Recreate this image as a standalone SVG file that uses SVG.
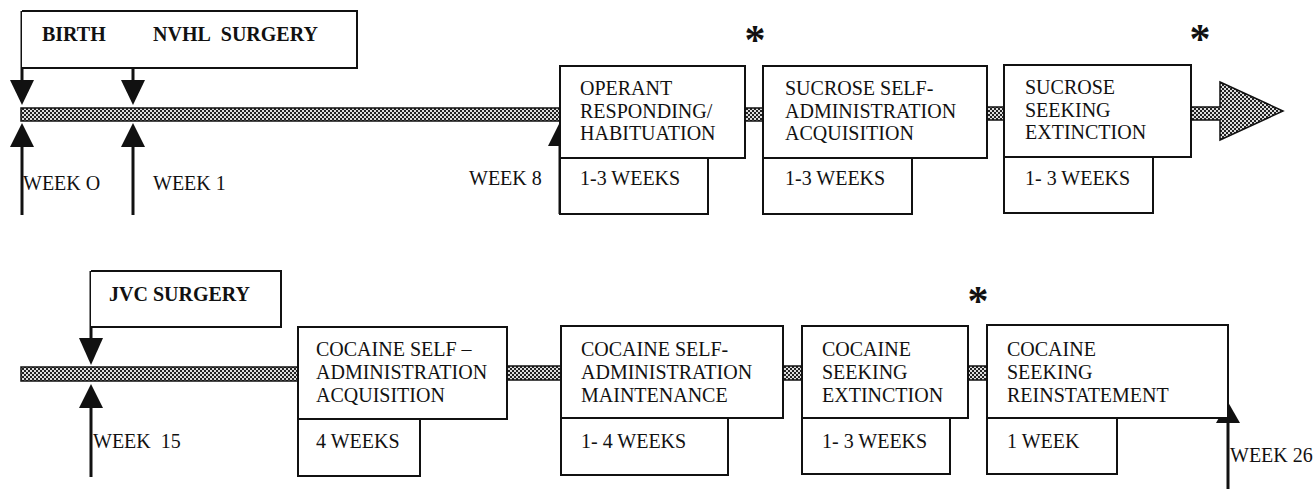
<svg xmlns="http://www.w3.org/2000/svg" width="1315" height="489" viewBox="0 0 1315 489" font-family="'Liberation Serif', serif" font-size="20">
<style>
text{fill:#111}
.b{font-weight:bold}
.ast{font-weight:bold;font-size:42px;text-anchor:middle}
.box{fill:#fff;stroke:#111;stroke-width:2}
.bar{fill:url(#hatch);stroke:#111;stroke-width:1.5}
.ln{stroke:#111;stroke-width:3;fill:none}
.ah{fill:#111;stroke:none}
</style>
<defs>
<pattern id="hatch" width="4" height="4" patternUnits="userSpaceOnUse">
<rect width="4" height="4" fill="#222"/>
<rect x="0" y="0" width="2" height="2" fill="#ddd"/>
<rect x="2" y="2" width="2" height="2" fill="#ddd"/>
</pattern>
</defs>
<rect width="1315" height="489" fill="#fff"/>

<g id="connectors">
<rect class="bar" x="21" y="108" width="539" height="13"/>
<rect class="bar" x="745" y="108" width="18" height="13"/>
<rect class="bar" x="987" y="107" width="17" height="13"/>
<path class="bar" d="M1191,107 H1220 V82 L1283,111 L1220,140 V120 H1191 Z"/>
<rect class="bar" x="21" y="367" width="277" height="14"/>
<rect class="bar" x="507" y="366" width="54" height="14"/>
<rect class="bar" x="783" y="366" width="19" height="14"/>
<rect class="bar" x="968" y="366" width="19" height="14"/>
<line class="ln" x1="22" y1="11" x2="22" y2="84"/>
<polygon class="ah" points="10,80 34,80 22,105"/>
<line class="ln" x1="133" y1="11" x2="133" y2="84"/>
<polygon class="ah" points="121,80 145,80 133,105"/>
<line class="ln" x1="22" y1="143" x2="22" y2="215"/>
<polygon class="ah" points="22,123 34,147 10,147"/>
<line class="ln" x1="133" y1="143" x2="133" y2="215"/>
<polygon class="ah" points="133,123 145,147 121,147"/>
<line class="ln" x1="560" y1="142" x2="560" y2="214"/>
<polygon class="ah" points="560,122 572,146 548,146"/>
<line class="ln" x1="91" y1="271" x2="91" y2="342"/>
<polygon class="ah" points="79,338 103,338 91,365"/>
<line class="ln" x1="91" y1="404" x2="91" y2="477"/>
<polygon class="ah" points="91,384 103,408 79,408"/>
<line class="ln" x1="1228" y1="419" x2="1228" y2="489"/>
<polygon class="ah" points="1228,402 1240,423 1216,423"/>
</g>

<g id="birth-nvhl">
<path class="box" d="M22,11 H357 V68 H22"/>
<text class="b" font-family="'Liberation Serif', serif" x="42" y="41">BIRTH</text>
<text class="b" font-family="'Liberation Serif', serif" x="153" y="41">NVHL&#160; SURGERY</text>
</g>
<g id="week0"><text font-family="'Liberation Serif', serif" x="23" y="190">WEEK O</text></g>
<g id="week1"><text font-family="'Liberation Serif', serif" x="153" y="190">WEEK 1</text></g>
<g id="week8"><text font-family="'Liberation Serif', serif" x="469" y="185">WEEK 8</text></g>

<g id="operant">
<rect class="box" x="560" y="158" width="148" height="56"/>
<rect class="box" x="560" y="66" width="185" height="92"/>
<text font-family="'Liberation Serif', serif" x="580" y="95">OPERANT</text>
<text font-family="'Liberation Serif', serif" x="580" y="118">RESPONDING/</text>
<text font-family="'Liberation Serif', serif" x="580" y="140">HABITUATION</text>
<text font-family="'Liberation Serif', serif" x="580" y="185">1-3 WEEKS</text>
</g>
<text class="ast" font-family="'Liberation Serif', serif" x="755" y="54">*</text>

<g id="sucrose-sa">
<rect class="box" x="763" y="158" width="149" height="56"/>
<rect class="box" x="763" y="66" width="224" height="92"/>
<text font-family="'Liberation Serif', serif" x="785" y="95">SUCROSE SELF-</text>
<text font-family="'Liberation Serif', serif" x="785" y="118">ADMINISTRATION</text>
<text font-family="'Liberation Serif', serif" x="785" y="140">ACQUISITION</text>
<text font-family="'Liberation Serif', serif" x="785" y="185">1-3 WEEKS</text>
</g>

<g id="sucrose-ext">
<rect class="box" x="1004" y="157" width="149" height="56"/>
<rect class="box" x="1004" y="65" width="187" height="92"/>
<text font-family="'Liberation Serif', serif" x="1025" y="94">SUCROSE</text>
<text font-family="'Liberation Serif', serif" x="1025" y="117">SEEKING</text>
<text font-family="'Liberation Serif', serif" x="1025" y="139">EXTINCTION</text>
<text font-family="'Liberation Serif', serif" x="1025" y="185">1- 3 WEEKS</text>
</g>
<text class="ast" font-family="'Liberation Serif', serif" x="1200" y="53">*</text>

<g id="jvc">
<path class="box" d="M91,271 H281 V327 H91"/>
<text class="b" font-family="'Liberation Serif', serif" x="109" y="301">JVC SURGERY</text>
</g>
<g id="week15"><text font-family="'Liberation Serif', serif" x="93" y="448">WEEK&#160; 15</text></g>

<g id="cocaine-sa">
<rect class="box" x="298" y="419" width="122" height="57"/>
<rect class="box" x="298" y="327" width="209" height="92"/>
<text font-family="'Liberation Serif', serif" x="316" y="356">COCAINE SELF –</text>
<text font-family="'Liberation Serif', serif" x="316" y="379">ADMINISTRATION</text>
<text font-family="'Liberation Serif', serif" x="316" y="402">ACQUISITION</text>
<text font-family="'Liberation Serif', serif" x="316" y="448">4 WEEKS</text>
</g>

<g id="cocaine-maint">
<rect class="box" x="561" y="418" width="167" height="57"/>
<rect class="box" x="561" y="326" width="222" height="92"/>
<text font-family="'Liberation Serif', serif" x="581" y="356">COCAINE SELF-</text>
<text font-family="'Liberation Serif', serif" x="581" y="379">ADMINISTRATION</text>
<text font-family="'Liberation Serif', serif" x="581" y="402">MAINTENANCE</text>
<text font-family="'Liberation Serif', serif" x="581" y="448">1- 4 WEEKS</text>
</g>

<g id="cocaine-ext">
<rect class="box" x="802" y="418" width="148" height="56"/>
<rect class="box" x="802" y="326" width="166" height="92"/>
<text font-family="'Liberation Serif', serif" x="822" y="356">COCAINE</text>
<text font-family="'Liberation Serif', serif" x="822" y="379">SEEKING</text>
<text font-family="'Liberation Serif', serif" x="822" y="402">EXTINCTION</text>
<text font-family="'Liberation Serif', serif" x="822" y="448">1- 3 WEEKS</text>
</g>
<text class="ast" font-family="'Liberation Serif', serif" x="978" y="315">*</text>

<g id="cocaine-reinst">
<rect class="box" x="987" y="418" width="130" height="56"/>
<rect class="box" x="987" y="325" width="241" height="93"/>
<text font-family="'Liberation Serif', serif" x="1007" y="356">COCAINE</text>
<text font-family="'Liberation Serif', serif" x="1007" y="379">SEEKING</text>
<text font-family="'Liberation Serif', serif" x="1007" y="402">REINSTATEMENT</text>
<text font-family="'Liberation Serif', serif" x="1007" y="448">1 WEEK</text>
</g>
<g id="week26"><text font-family="'Liberation Serif', serif" x="1230" y="462">WEEK 26</text></g>
</svg>
